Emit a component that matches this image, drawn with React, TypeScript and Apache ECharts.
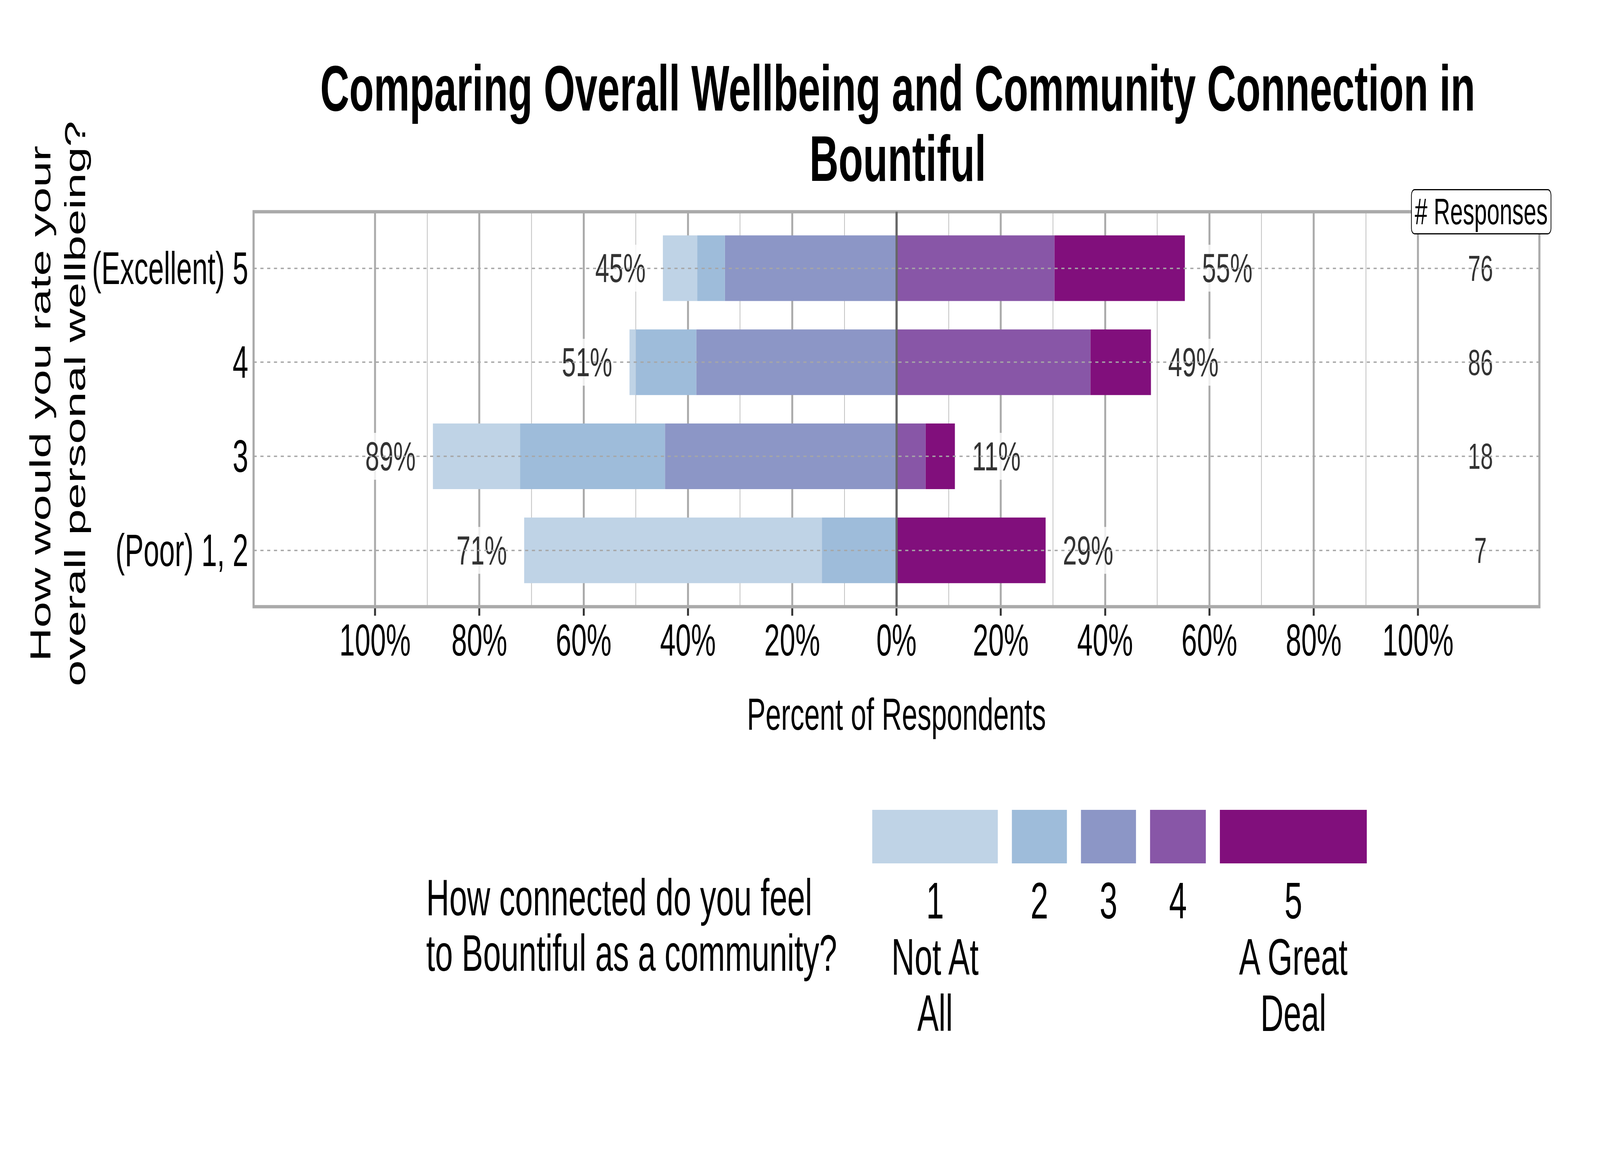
import React, { useEffect, useRef } from 'react';
import * as echarts from 'echarts';

// ---- data ----
const categories = ['(Excellent) 5', '4', '3', '(Poor) 1, 2'];
const level1 = [6.6, 1.2, 16.7, 57.1]; // 1 Not At All
const level2 = [5.3, 11.6, 27.8, 14.3]; // 2
const level3 = [32.9, 38.4, 44.4, 0]; // 3
const level4 = [30.3, 37.2, 5.6, 0]; // 4
const level5 = [25.0, 11.6, 5.6, 28.6]; // 5 A Great Deal
const responses = [76, 86, 18, 7];
const levelNames = ['1\nNot At\nAll', '2', '3', '4', '5\nA Great\nDeal'];
const levelColors = ['#bfd3e6', '#9ebcda', '#8c96c6', '#8856a7', '#810f7c'];

const TITLE = 'Comparing Overall Wellbeing and Community Connection in\nBountiful';
const Y_NAME = 'How would you rate your\noverall personal wellbeing?';
const X_NAME = 'Percent of Respondents';
const LEGEND_TITLE = 'How connected do you feel\nto Bountiful as a community?';
const RESP_HEADER = '# Responses';

const FONT = '"Liberation Sans", Arial, Helvetica, sans-serif';
const W = 6600;
const H = 3000;

export default function App() {
  const ref = useRef<HTMLDivElement>(null);
  const sx = typeof window !== 'undefined' ? Math.min(1, window.innerWidth / W) : 1;
  const sy = typeof window !== 'undefined' ? Math.min(1, window.innerHeight / H) : 1;

  useEffect(() => {
    document.body.style.margin = '0';
    document.documentElement.style.overflow = 'hidden';
    if (!ref.current) return;
    const chart = echarts.init(ref.current, undefined, { renderer: 'svg' });

    // layout (pixels)
    const X0 = 1046, X1 = 6350, Y0 = 542, Y1 = 1553;
    const ZERO = 3698, HUND = 2151;
    const span = ((X1 - ZERO) / HUND) * 100;
    const inset = 24;

    const seg = (name: string, data: number[], color: string, sign: number) => ({
      type: 'bar',
      name,
      xAxisIndex: 1,
      yAxisIndex: 1,
      stack: 'total',
      barWidth: 168,
      silent: true,
      z: 2,
      data: data.map((v) => sign * v),
      itemStyle: { color },
    });

    const leftTotals = categories.map((_, i) => level1[i] + level2[i] + level3[i]);
    const rightTotals = categories.map((_, i) => level4[i] + level5[i]);

    const legendX = [3598, 4174, 4459, 4744, 5032];
    const legendW = [518, 227, 227, 230, 606];

    const legendGraphics: any[] = [];
    levelNames.forEach((nm, i) => {
      legendGraphics.push({
        type: 'rect',
        silent: true,
        shape: { x: legendX[i], y: 2073, width: legendW[i], height: 137 },
        style: { fill: levelColors[i] },
      });
      legendGraphics.push({
        type: 'text',
        silent: true,
        x: legendX[i] + legendW[i] / 2,
        y: 2233,
        style: {
          text: nm,
          fontSize: 132,
          fontFamily: FONT,
          fill: '#000',
          align: 'center',
          verticalAlign: 'top',
          lineHeight: 144,
        },
      });
    });

    const option: any = {
      animation: false,
      backgroundColor: '#fff',
      title: {
        text: TITLE,
        left: 3703,
        top: 135,
        padding: 0,
        textAlign: 'center',
        textStyle: {
          fontSize: 166,
          fontWeight: 'bold',
          lineHeight: 180,
          color: '#000',
          fontFamily: FONT,
        },
      },
      grid: [
        { left: ZERO - HUND, top: Y0, width: 2 * HUND, height: Y1 - Y0 },
        { left: X0, top: Y0 + inset, width: X1 - X0, height: Y1 - Y0 - 2 * inset },
      ],
      xAxis: [
        {
          gridIndex: 0,
          type: 'value',
          min: -100,
          max: 100,
          interval: 20,
          axisLine: { show: false },
          axisTick: { show: true, length: 23, lineStyle: { color: '#333', width: 8 } },
          axisLabel: {
            formatter: (v: number) => Math.abs(v) + '%',
            fontSize: 115,
            color: '#000',
            margin: 27,
            fontFamily: FONT,
          },
          splitLine: { show: true, lineStyle: { color: '#aaa', width: 8 } },
          minorTick: { show: false, splitNumber: 2 },
          minorSplitLine: { show: true, lineStyle: { color: '#bdbdbd', width: 3 } },
          name: X_NAME,
          nameLocation: 'middle',
          nameGap: 217,
          nameTextStyle: { fontSize: 115, color: '#000', fontFamily: FONT },
        },
        { gridIndex: 1, type: 'value', min: -span, max: span, show: false },
      ],
      yAxis: [
        { gridIndex: 0, type: 'value', min: 0, max: 1, show: false },
        {
          gridIndex: 1,
          type: 'category',
          data: categories,
          inverse: true,
          axisLine: { show: false },
          axisTick: { show: false },
          splitLine: { show: false },
          axisLabel: { fontSize: 116, color: '#000', margin: 22, fontFamily: FONT },
        },
      ],
      series: [
        seg('3', level3, levelColors[2], -1),
        seg('2', level2, levelColors[1], -1),
        seg('1', level1, levelColors[0], -1),
        seg('4', level4, levelColors[3], 1),
        seg('5', level5, levelColors[4], 1),
        {
          type: 'line',
          xAxisIndex: 1,
          yAxisIndex: 1,
          data: [],
          z: 1,
          silent: true,
          markLine: {
            silent: true,
            symbol: ['none', 'none'],
            label: { show: false },
            lineStyle: { type: [13, 15], color: '#a6a6a6', width: 3.7 },
            data: categories.map((c) => ({ yAxis: c })),
          },
        },
        {
          type: 'line',
          xAxisIndex: 0,
          yAxisIndex: 0,
          data: [],
          z: 1,
          silent: true,
          markLine: {
            silent: true,
            symbol: ['none', 'none'],
            label: { show: false },
            lineStyle: { type: 'solid', color: '#666', width: 9 },
            data: [{ xAxis: 0 }],
          },
        },
        {
          type: 'scatter',
          xAxisIndex: 1,
          yAxisIndex: 1,
          symbolSize: 0,
          silent: true,
          z: 3,
          data: categories.map((c, i) => [-leftTotals[i], c]),
          label: {
            show: true,
            position: 'left',
            distance: 65,
            formatter: (p: any) => Math.round(Math.abs(p.value[0])) + '%',
            fontSize: 104,
            color: '#000',
            fontFamily: FONT,
            backgroundColor: '#fff',
            padding: [8, 6],
          },
        },
        {
          type: 'scatter',
          xAxisIndex: 1,
          yAxisIndex: 1,
          symbolSize: 0,
          silent: true,
          z: 3,
          data: categories.map((c, i) => [rightTotals[i], c]),
          label: {
            show: true,
            position: 'right',
            distance: 65,
            formatter: (p: any) => Math.round(Math.abs(p.value[0])) + '%',
            fontSize: 104,
            color: '#000',
            fontFamily: FONT,
            backgroundColor: '#fff',
            padding: [8, 6],
          },
        },
        {
          type: 'scatter',
          xAxisIndex: 1,
          yAxisIndex: 1,
          symbolSize: 0,
          silent: true,
          z: 3,
          data: categories.map((c) => [112, c]),
          label: {
            show: true,
            position: 'inside',
            formatter: (p: any) => String(responses[p.dataIndex]),
            fontSize: 93,
            color: '#000',
            fontFamily: FONT,
            backgroundColor: '#fff',
            padding: [6, 14],
          },
        },
      ],
      graphic: [
        {
          type: 'rect',
          silent: true,
          z: 5,
          shape: { x: X0, y: Y0, width: X1 - X0, height: Y1 - Y0 },
          style: { fill: 'none', stroke: '#aaa', lineWidth: 8.7 },
        },
        {
          type: 'text',
          silent: true,
          z: 6,
          x: 6110,
          y: 542,
          style: {
            text: RESP_HEADER,
            fontSize: 94,
            fontFamily: FONT,
            fill: '#000',
            align: 'center',
            verticalAlign: 'middle',
            backgroundColor: '#fff',
            borderColor: '#000',
            borderWidth: 3,
            borderRadius: 12,
            padding: [8, 12],
          },
        },
        {
          type: 'text',
          silent: true,
          x: 238,
          y: 1033,
          rotation: Math.PI / 2,
          style: {
            text: Y_NAME,
            fontSize: 120,
            fontFamily: FONT,
            fill: '#000',
            align: 'center',
            verticalAlign: 'middle',
            lineHeight: 144,
          },
        },
        {
          type: 'text',
          silent: true,
          x: 1758,
          y: 2226,
          style: {
            text: LEGEND_TITLE,
            fontSize: 132,
            fontFamily: FONT,
            fill: '#000',
            align: 'left',
            verticalAlign: 'top',
            lineHeight: 142,
          },
        },
        ...legendGraphics,
      ],
    };

    chart.setOption(option);
    return () => chart.dispose();
  }, []);

  return (
    <div style={{ width: W * sx, height: H * sy, overflow: 'hidden' }}>
      <div
        ref={ref}
        style={{
          width: W,
          height: H,
          transform: `scale(${sx}, ${sy})`,
          transformOrigin: '0 0',
        }}
      />
    </div>
  );
}
